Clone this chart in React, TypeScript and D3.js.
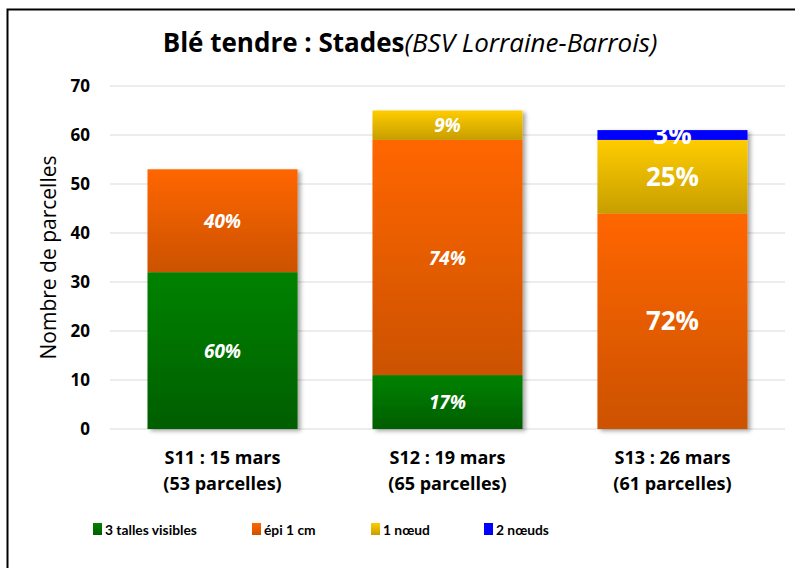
import React from 'react';
import * as d3 from 'd3';

const categories = ['S11 : 15 mars', 'S12 : 19 mars', 'S13 : 26 mars'];
const subLabels = ['(53 parcelles)', '(65 parcelles)', '(61 parcelles)'];
const seriesNames = ['3 talles visibles', 'épi 1 cm', '1 nœud', '2 nœuds'];
const talles = [32, 11, 0];
const epi = [21, 48, 44];
const noeud1 = [0, 6, 15];
const noeud2 = [0, 0, 2];
const pctTalles = ['60%', '17%', ''];
const pctEpi = ['40%', '74%', '72%'];
const pctNoeud1 = ['', '9%', '25%'];
const pctNoeud2 = ['', '', '3%'];
const yTicks = [0, 10, 20, 30, 40, 50, 60, 70];

const colors = [
  ['#008200', '#005e00'],
  ['#ff6600', '#cc5200'],
  ['#ffcc00', '#c79e00'],
  ['#0000ff', '#0000ff'],
];

const font = '"Open Sans", sans-serif';
const legendFont = 'Lato, sans-serif';

const App = () => {
  const left = 110;
  const right = 785;
  const top = 86;
  const bottom = 429;

  const x = d3.scaleBand().domain(categories).range([left, right]).paddingInner(0.333).paddingOuter(0.1667);
  const y = d3.scaleLinear().domain([0, 70]).range([bottom, top]);

  const rows = categories.map((c, i) => ({ cat: c, talles: talles[i], epi: epi[i], n1: noeud1[i], n2: noeud2[i] }));
  const stack = d3.stack<any>().keys(['talles', 'epi', 'n1', 'n2'])(rows);
  const labels = [pctTalles, pctEpi, pctNoeud1, pctNoeud2];

  const legendX = [93, 252, 371, 484];

  return (
    <svg width={795} height={568} style={{ position: 'absolute', left: 0, top: 0 }}>
      <defs>
        {colors.map((c, i) => (
          <linearGradient key={i} id={'g' + i} x1="0" y1="0" x2="0" y2="1">
            <stop offset="0" stopColor={c[0]} />
            <stop offset="1" stopColor={c[1]} />
          </linearGradient>
        ))}
        <filter id="shadow" x="-10%" y="-10%" width="130%" height="130%">
          <feDropShadow dx="3" dy="2" stdDeviation="2" floodColor="#000" floodOpacity="0.35" />
        </filter>
      </defs>
      <rect x={0} y={0} width={795} height={568} fill="#fff" />
      <rect x={7.5} y={9.5} width={800} height={600} fill="none" stroke="#000" strokeWidth={2} />

      <text x={410} y={52} textAnchor="middle" fontFamily={font} fontSize={26} fill="#000">
        <tspan fontWeight="bold">Blé tendre : Stades</tspan>
        <tspan fontStyle="italic">(BSV Lorraine-Barrois)</tspan>
      </text>

      {yTicks.map((t) => (
        <g key={t}>
          <line x1={left} x2={right} y1={y(t)} y2={y(t)} stroke="#d9d9d9" strokeWidth={1} />
          <text x={90} y={y(t) + 6} textAnchor="end" fontFamily={font} fontSize={17} fontWeight="bold" fill="#000">
            {t}
          </text>
        </g>
      ))}

      <text transform={`translate(56,${(top + bottom) / 2}) rotate(-90)`} textAnchor="middle" fontFamily={font} fontSize={21} fill="#000">
        Nombre de parcelles
      </text>

      {categories.map((c, i) => (
        <g key={c} filter="url(#shadow)">
          {stack.map((s, k) =>
            s[i][1] - s[i][0] > 0 ? (
              <rect key={k} x={x(c)} width={x.bandwidth()} y={y(s[i][1])} height={y(s[i][0]) - y(s[i][1])} fill={`url(#g${k})`} />
            ) : null
          )}
        </g>
      ))}

      {categories.map((c, i) =>
        stack.map((s, k) => {
          const txt = labels[k][i];
          if (!txt) return null;
          const big = i === 2;
          const cy = (y(s[i][0]) + y(s[i][1])) / 2;
          return (
            <text key={c + k} x={x(c)! + x.bandwidth() / 2} y={cy + (big ? 9 : 7)} textAnchor="middle" fontFamily={font} fontWeight="bold" fontStyle={big ? 'normal' : 'italic'} fontSize={big ? 26 : 19} fill="#fff">
              {txt}
            </text>
          );
        })
      )}

      {categories.map((c, i) => (
        <text key={c} x={x(c)! + x.bandwidth() / 2} textAnchor="middle" fontFamily={font} fontWeight="bold" fontSize={18} fill="#000">
          <tspan x={x(c)! + x.bandwidth() / 2} y={464}>{c}</tspan>
          <tspan x={x(c)! + x.bandwidth() / 2} y={490}>{subLabels[i]}</tspan>
        </text>
      ))}

      {seriesNames.map((n, i) => (
        <g key={n}>
          <rect x={legendX[i]} y={523} width={9} height={12} fill={`url(#g${i})`} />
          <text x={legendX[i] + 12} y={535} fontFamily={legendFont} fontWeight="bold" fontSize={13.8} fill="#000">
            {n}
          </text>
        </g>
      ))}
    </svg>
  );
};

export default App;
